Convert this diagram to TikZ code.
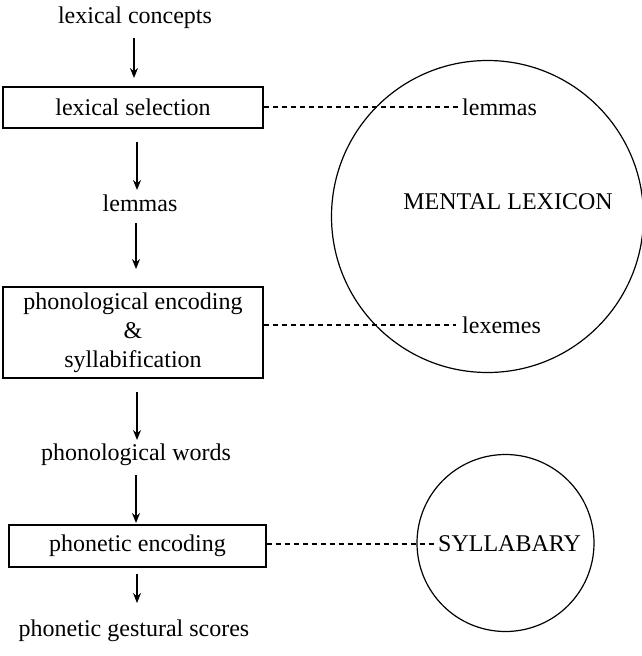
\documentclass[tikz,border=0pt]{standalone}
\usepackage{fontspec}
\setmainfont{Liberation Serif}
\usetikzlibrary{arrows.meta}
\begin{document}
\begin{tikzpicture}[x=1pt,y=-1pt,
  every node/.style={font=\fontsize{24}{29}\selectfont, inner sep=0pt},
  lbl/.style={anchor=base},
  stagebox/.style={draw, line width=1.3pt, minimum width=260pt, align=center},
  flow/.style={line width=1.6pt, -{Stealth[length=10pt,width=8pt]}},
  link/.style={line width=1.1pt, dash pattern=on 5pt off 4pt},
  store/.style={draw, circle, line width=1.2pt}]
\useasboundingbox (0,0) rectangle (642,656);
% left column
\node[lbl] (concepts) at (135,23) {lexical concepts};
\node[stagebox, minimum height=41pt] (select) at (133,107.5) {lexical selection};
\node[lbl] (lemmas) at (140,211) {lemmas};
\node[stagebox, minimum height=91pt] (phon) at (133,332.5) {phonological encoding\\\&\\syllabification};
\node[lbl] (pwords) at (136,460) {phonological words};
\node[stagebox, minimum width=257pt, minimum height=42pt] (phonet) at (137.5,546) {phonetic encoding};
\node[lbl] (scores) at (134,636) {phonetic gestural scores};
% arrows
\coordinate (a1s) at (134,38); \coordinate (a1e) at (134,78);
\coordinate (a2s) at (137,142); \coordinate (a2e) at (137,190);
\coordinate (a3s) at (136,223); \coordinate (a3e) at (136,269);
\coordinate (a4s) at (137,392); \coordinate (a4e) at (137,440);
\coordinate (a5s) at (136,475); \coordinate (a5e) at (136,523);
\coordinate (a6s) at (137,574); \coordinate (a6e) at (137,603);
\draw[flow] (a1s) -- (a1e);
\draw[flow] (a2s) -- (a2e);
\draw[flow] (a3s) -- (a3e);
\draw[flow] (a4s) -- (a4e);
\draw[flow] (a5s) -- (a5e);
\draw[flow, line width=1.1pt] (a6s) -- (a6e);
% stores
\node[store, minimum size=312pt] (lexicon) at (487.5,216.5) {};
\node[lbl] (lexname) at (508,209) {MENTAL LEXICON};
\node[store, minimum size=177pt] (syllabary) at (505.5,543) {};
\node[anchor=west] (sylname) at (438,544) {SYLLABARY};
\node[anchor=west] (lemR) at (462,107) {lemmas};
\node[anchor=west] (lexemes) at (462,325) {lexemes};
% dashed links
\draw[link] (select.east |- lemR.west) -- ([xshift=-2pt]lemR.west);
\draw[link] (lexemes.west -| phon.east) -- ([xshift=-6pt]lexemes.west);
\draw[link] (phonet.east |- sylname.west) -- ([xshift=-1pt]sylname.west);
\end{tikzpicture}
\end{document}
